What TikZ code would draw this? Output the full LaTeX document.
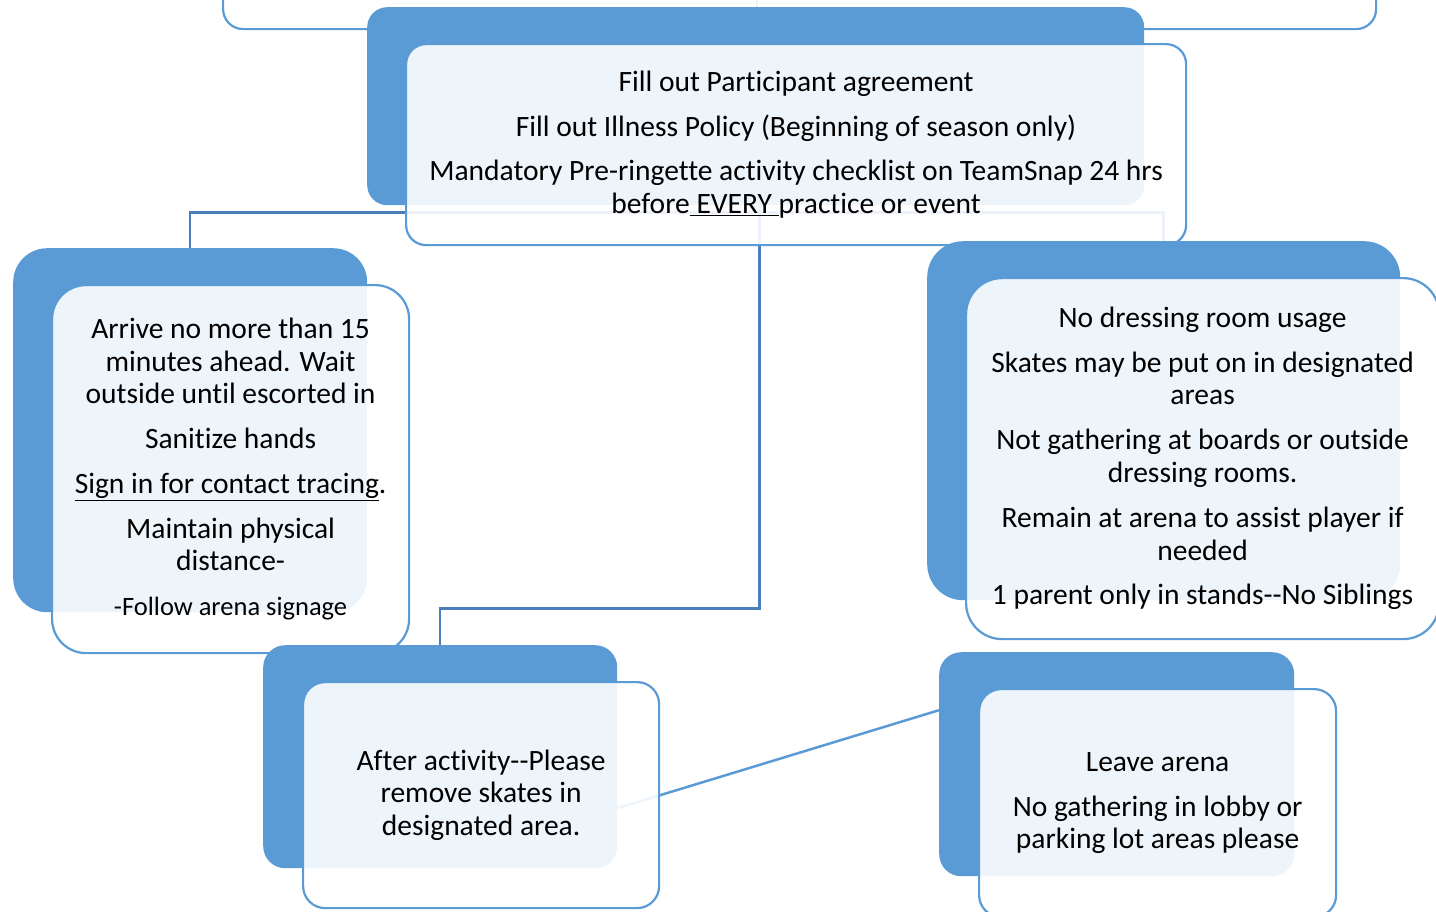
\documentclass[tikz,border=0pt]{standalone}
\usepackage{fontspec}
\setmainfont{Carlito}[Ligatures={NoCommon}]
\usetikzlibrary{calc}
\definecolor{sa}{HTML}{5B9BD5}
\definecolor{cn}{HTML}{4A7EBB}
\newcommand\dblhy{\mbox{-}\mbox{-}}
\begin{document}
\begin{tikzpicture}[x=1pt,y=-1pt,
  back/.style={fill=sa, draw=none, inner sep=0pt, anchor=north west},
  front/.style={draw=sa, line width=2.2pt, fill=white, fill opacity=0.9, text opacity=1,
    inner sep=0pt, anchor=north west, align=center, font=\fontsize{29.5}{32.5}\selectfont},
  conn/.style={draw=cn, line width=2.5pt},
  diag/.style={draw=sa, line width=2.5pt}]
\useasboundingbox (0,0) rectangle (1436,911);
\clip (0,0) rectangle (1436,911);
% placeholders of the back boxes, for connector anchors
\path (367,7) node[back, fill=none, minimum width=777pt, minimum height=198pt] (mbp) {};
\path (13,248) node[back, fill=none, minimum width=354pt, minimum height=364pt] (lbp) {};
\path (263,645) node[back, fill=none, minimum width=354pt, minimum height=223pt] (bmbp) {};
\path (927,241) node[back, fill=none, minimum width=473pt, minimum height=359pt] (rbp) {};
\path (939,652) node[back, fill=none, minimum width=355pt, minimum height=224pt] (brbp) {};
% connectors
\coordinate (tc) at (757,-30);
\draw[conn] (tc) -- (tc |- mbp.north);
\draw[conn] (mbp.south) -- ++(0,7) -| (lbp.north);
\draw[conn] (mbp.south) -- ++(0,7) -| (rbp.north);
\draw[conn] ([xshift=4pt]mbp.south) -- ++(0,403) -| (bmbp.north);
\draw[diag] ([yshift=-51.5pt]bmbp.east) -- ([yshift=54pt]brbp.west);
% top (cut) box
\node[front, rounded corners=20pt, minimum width=1153pt, minimum height=88pt] (top) at (222,-60) {};
% main
\node[back, rounded corners=20pt, minimum width=777pt, minimum height=198pt] (mb) at (367,7) {};
\node[front, rounded corners=20pt, minimum width=780pt, minimum height=201pt] (mf) at (405,43)
  {Fill out Participant agreement\\[12.5pt]
   Fill out Illness Policy (Beginning of season only)\\[12pt]
   Mandatory Pre-ringette activity checklist on TeamSnap 24 hrs\\
   before\underline{\ EVERY\ }practice or event};
% left
\node[back, rounded corners=34pt, minimum width=354pt, minimum height=364pt] (lb) at (13,248) {};
\node[front, rounded corners=34pt, minimum width=357pt, minimum height=368pt] (lf) at (51,284)
  {Arrive no more than 15\\ minutes ahead. Wait\\ outside until escorted in\\[12.5pt]
   Sanitize hands\\[12.5pt]
   \underline{Sign in for contact tracing}.\\[12pt]
   Maintain physical\\ distance-\\[12pt]
   {\fontsize{26.5}{32}\selectfont -Follow arena signage}};
% bottom middle
\node[back, rounded corners=22pt, minimum width=354pt, minimum height=223pt] (bmb) at (263,645) {};
\node[front, rounded corners=22pt, minimum width=356pt, minimum height=226pt] (bmf) at (302,681)
  {After activity\dblhy Please\\ remove skates in\\ designated area.};
% right
\node[back, rounded corners=36pt, minimum width=473pt, minimum height=359pt] (rb) at (927,241) {};
\node[front, rounded corners=36pt, minimum width=473pt, minimum height=361pt] (rf) at (965,277)
  {No dressing room usage\\[12pt]
   Skates may be put on in designated\\ areas\\[12.5pt]
   Not gathering at boards or outside\\ dressing rooms.\\[13pt]
   Remain at arena to assist player if\\ needed\\[12pt]
   1 parent only in stands\dblhy No Siblings};
% bottom right
\node[back, rounded corners=22pt, minimum width=355pt, minimum height=224pt] (brb) at (939,652) {};
\node[front, rounded corners=22pt, minimum width=357pt, minimum height=228pt] (brf) at (978,688)
  {Leave arena\\[12.5pt]
   No gathering in lobby or\\ parking lot areas please};
\end{tikzpicture}
\end{document}
